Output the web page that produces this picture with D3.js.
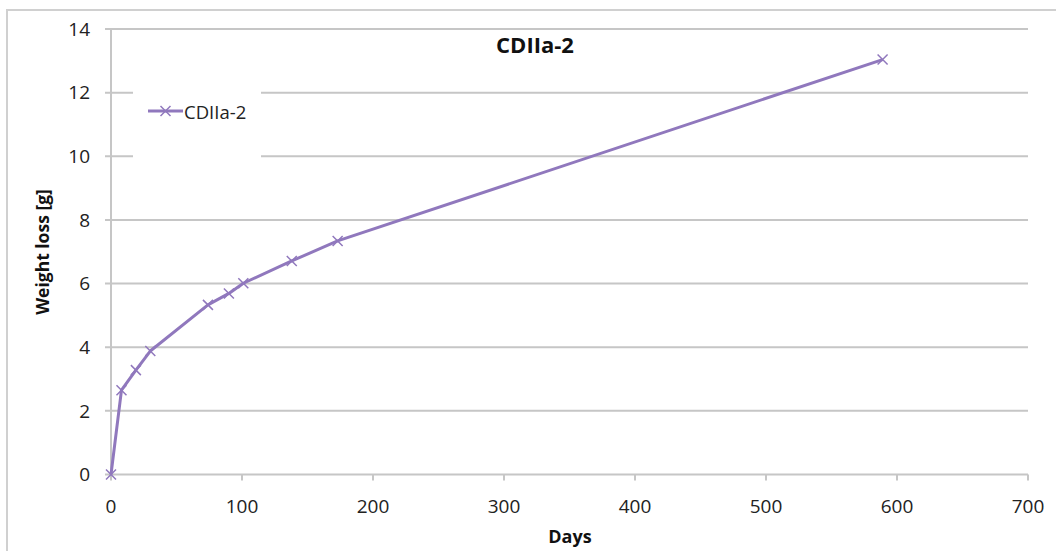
<!DOCTYPE html>
<html><head><meta charset="utf-8">
<script src="https://cdn.jsdelivr.net/npm/d3@7"></script>
<style>body{margin:0;background:#fff}svg{display:block}</style>
</head><body>
<script>
const seriesName = "CDIIa-2";
const days = [0, 8, 19, 30, 74, 90, 101, 138, 173, 589];
const weightLoss = [0, 2.65, 3.28, 3.88, 5.33, 5.69, 6.01, 6.71, 7.34, 13.04];
const xTicks = [0, 100, 200, 300, 400, 500, 600, 700];
const yTicks = [0, 2, 4, 6, 8, 10, 12, 14];

const W = 1056, H = 551;
const font = "'Open Sans', 'Liberation Sans', sans-serif";
const gridColor = "#c6c6c6";
const lineColor = "#9078bd";

const svg = d3.select("body").append("svg").attr("width", W).attr("height", H);
svg.append("rect").attr("width", W).attr("height", H).attr("fill", "#fff");
svg.append("rect").attr("x", 7).attr("y", 10).attr("width", W + 20).attr("height", H + 20)
  .attr("fill", "none").attr("stroke", "#d0d0d0").attr("stroke-width", 2);

const x = d3.scaleLinear().domain([0, 700]).range([111, 1028]);
const y = d3.scaleLinear().domain([0, 14]).range([474.5, 29]);

// gridlines (including outside tick stubs)
svg.append("g").selectAll("line").data(yTicks).join("line")
  .attr("x1", 105).attr("x2", x(700))
  .attr("y1", d => y(d)).attr("y2", d => y(d))
  .attr("stroke", gridColor).attr("stroke-width", 2);

// y axis line
svg.append("line").attr("x1", x(0)).attr("x2", x(0)).attr("y1", y(14)).attr("y2", y(0))
  .attr("stroke", gridColor).attr("stroke-width", 2);

// x axis ticks
svg.append("g").selectAll("line").data(xTicks).join("line")
  .attr("x1", d => x(d)).attr("x2", d => x(d))
  .attr("y1", y(0)).attr("y2", y(0) + 6)
  .attr("stroke", gridColor).attr("stroke-width", 2);

// legend background
svg.append("rect").attr("x", 133).attr("y", 80).attr("width", 128).attr("height", 82).attr("fill", "#fff");

// tick labels
svg.append("g").selectAll("text").data(yTicks).join("text")
  .attr("x", 90).attr("y", d => y(d)).attr("dy", "0.36em")
  .attr("text-anchor", "end").attr("font-family", font).attr("font-size", 19).attr("fill", "#222")
  .text(d => d);
svg.append("g").selectAll("text").data(xTicks).join("text")
  .attr("x", d => x(d)).attr("y", 513)
  .attr("text-anchor", "middle").attr("font-family", font).attr("font-size", 19).attr("fill", "#222")
  .text(d => d);

// titles
svg.append("text").attr("x", 535).attr("y", 53).attr("text-anchor", "middle")
  .attr("font-family", font).attr("font-size", 22).attr("font-weight", "bold").attr("fill", "#111")
  .text(seriesName);
svg.append("text").attr("x", 570).attr("y", 543).attr("text-anchor", "middle")
  .attr("font-family", font).attr("font-size", 18).attr("font-weight", "bold").attr("fill", "#111")
  .text("Days");
svg.append("text").attr("transform", "translate(49,252) rotate(-90)").attr("text-anchor", "middle")
  .attr("font-family", font).attr("font-size", 17.5).attr("font-weight", "bold").attr("fill", "#111")
  .text("Weight loss [g]");

// data line
const pts = days.map((d, i) => [d, weightLoss[i]]);
svg.append("path").datum(pts)
  .attr("d", d3.line().x(d => x(d[0])).y(d => y(d[1])))
  .attr("fill", "none").attr("stroke", lineColor).attr("stroke-width", 3).attr("stroke-linejoin", "round");

function cross(g, cx, cy, r) {
  g.append("path").attr("d", `M${cx - r},${cy - r}L${cx + r},${cy + r}M${cx - r},${cy + r}L${cx + r},${cy - r}`)
    .attr("stroke", lineColor).attr("stroke-width", 1.5).attr("fill", "none");
}
const mg = svg.append("g");
pts.forEach(p => cross(mg, x(p[0]), y(p[1]), 5));

// legend
svg.append("line").attr("x1", 148).attr("x2", 183).attr("y1", 111).attr("y2", 111)
  .attr("stroke", lineColor).attr("stroke-width", 3);
cross(svg, 165.5, 111, 5);
svg.append("text").attr("x", 184).attr("y", 112).attr("dy", "0.36em")
  .attr("font-family", font).attr("font-size", 18.5).attr("fill", "#222").text(seriesName);
</script>
</body></html>
